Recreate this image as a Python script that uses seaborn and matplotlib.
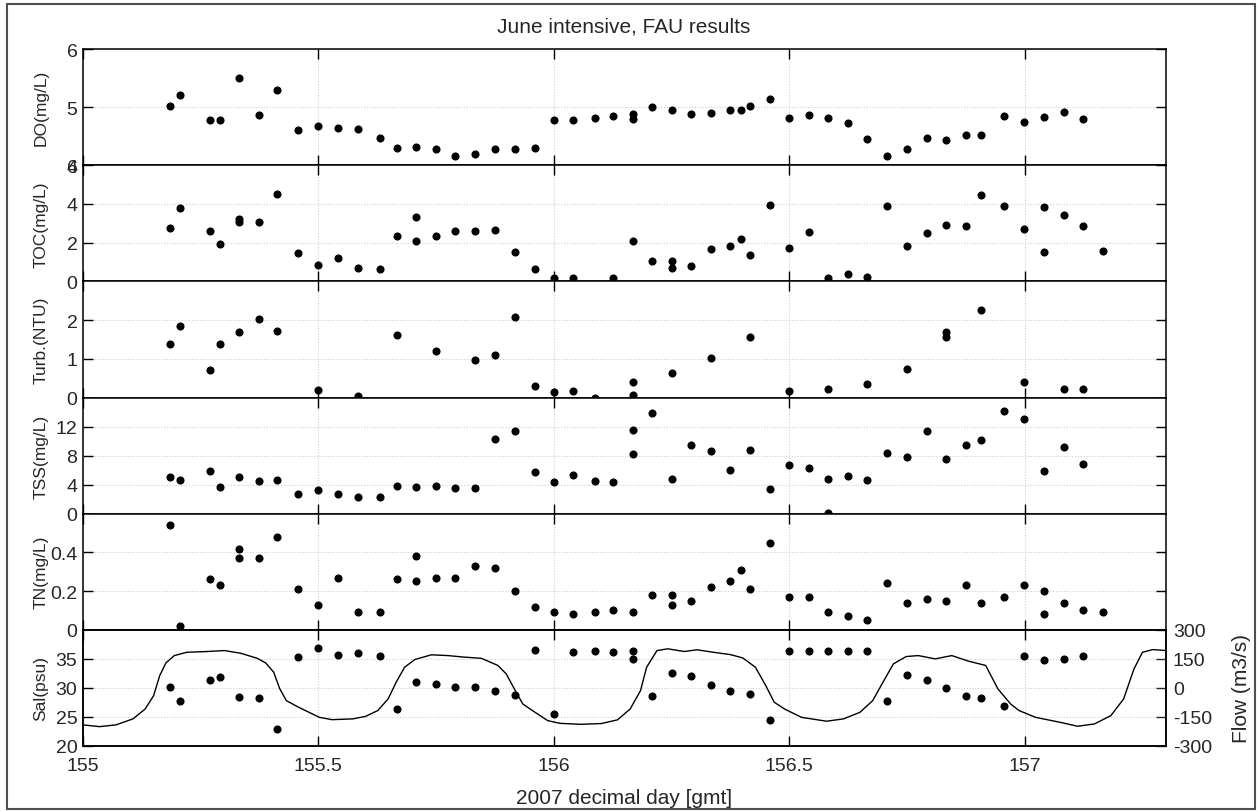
import matplotlib
matplotlib.use("Agg")
import matplotlib.pyplot as plt
from matplotlib.patches import Rectangle
import seaborn as sns
import pandas as pd

# ---------------- data ----------------
do_t = [155.185,155.207,155.270,155.291,155.332,155.374,155.412,155.457,155.499,155.542,
        155.583,155.631,155.666,155.707,155.749,155.791,155.833,155.875,155.917,155.959,
        156.000,156.041,156.087,156.126,156.167,156.167,156.208,156.251,156.291,156.333,
        156.375,156.397,156.417,156.459,156.500,156.542,156.583,156.624,156.666,156.708,
        156.750,156.792,156.833,156.875,156.908,156.957,156.999,157.041,157.083,157.124]
do_v = [5.02,5.21,4.77,4.77,5.50,4.87,5.29,4.60,4.68,4.64,
        4.62,4.47,4.29,4.31,4.27,4.16,4.20,4.27,4.27,4.29,
        4.77,4.78,4.81,4.84,4.88,4.80,5.00,4.95,4.88,4.90,
        4.95,4.95,5.02,5.14,4.82,4.86,4.82,4.73,4.45,4.16,
        4.28,4.46,4.44,4.52,4.52,4.85,4.75,4.83,4.91,4.80]

toc_t = [155.185,155.207,155.270,155.291,155.332,155.332,155.374,155.412,155.457,155.499,
         155.542,155.583,155.631,155.666,155.707,155.707,155.749,155.791,155.833,155.875,
         155.917,155.959,156.000,156.041,156.126,156.167,156.208,156.251,156.251,156.291,
         156.333,156.375,156.397,156.417,156.459,156.500,156.542,156.583,156.624,156.666,
         156.708,156.750,156.792,156.833,156.875,156.908,156.957,156.999,157.041,157.041,
         157.083,157.124,157.166]
toc_v = [2.74,3.79,2.60,1.95,3.20,3.08,3.06,4.53,1.48,0.86,
         1.20,0.67,0.65,2.36,3.30,2.08,2.34,2.62,2.58,2.63,
         1.50,0.64,0.19,0.17,0.19,2.08,1.05,1.07,0.69,0.79,
         1.67,1.82,2.19,1.34,3.92,1.72,2.53,0.19,0.38,0.24,
         3.87,1.82,2.48,2.89,2.86,4.44,3.87,2.69,3.86,1.53,
         3.41,2.86,1.57]

turb_t = [155.185,155.207,155.270,155.291,155.332,155.374,155.412,155.499,155.583,155.666,
          155.749,155.833,155.875,155.917,155.959,156.000,156.041,156.087,156.167,156.167,
          156.251,156.333,156.417,156.500,156.583,156.666,156.750,156.833,156.833,156.908,
          156.999,157.083,157.124]
turb_v = [1.38,1.84,0.71,1.38,1.70,2.02,1.72,0.19,0.04,1.61,
          1.20,0.98,1.11,2.07,0.29,0.13,0.16,0.00,0.41,0.07,
          0.64,1.02,1.57,0.16,0.22,0.34,0.73,1.68,1.55,2.27,
          0.41,0.22,0.23]

tss_t = [155.185,155.207,155.270,155.291,155.332,155.374,155.412,155.457,155.499,155.542,
         155.583,155.631,155.666,155.707,155.749,155.791,155.833,155.875,155.917,155.959,
         156.000,156.041,156.087,156.126,156.167,156.167,156.208,156.251,156.291,156.333,
         156.375,156.417,156.459,156.500,156.542,156.583,156.583,156.624,156.666,156.708,
         156.750,156.792,156.833,156.875,156.908,156.957,156.999,157.041,157.083,157.124]
tss_v = [4.99,4.63,5.86,3.71,4.99,4.49,4.67,2.75,3.30,2.66,
         2.29,2.29,3.80,3.71,3.85,3.57,3.57,10.26,11.41,5.68,
         4.31,5.31,4.49,4.40,11.54,8.25,13.88,4.76,9.48,8.70,
         6.00,8.80,3.44,6.69,6.28,4.72,0.05,5.18,4.63,8.29,
         7.79,11.41,7.56,9.44,10.08,14.11,13.01,5.82,9.16,6.78]

tn_t = [155.185,155.207,155.270,155.291,155.332,155.332,155.374,155.412,155.457,155.499,
        155.542,155.583,155.631,155.666,155.707,155.707,155.749,155.791,155.833,155.875,
        155.917,155.959,156.000,156.041,156.087,156.126,156.167,156.208,156.251,156.251,
        156.291,156.333,156.375,156.397,156.417,156.459,156.500,156.542,156.583,156.624,
        156.666,156.708,156.750,156.792,156.833,156.875,156.908,156.957,156.999,157.041,
        157.041,157.083,157.124,157.166]
tn_v = [0.54,0.02,0.26,0.23,0.42,0.37,0.37,0.48,0.21,0.13,
        0.27,0.09,0.09,0.26,0.38,0.25,0.27,0.27,0.33,0.32,
        0.20,0.12,0.09,0.08,0.09,0.10,0.09,0.18,0.18,0.13,
        0.15,0.22,0.25,0.31,0.21,0.45,0.17,0.17,0.09,0.07,
        0.05,0.24,0.14,0.16,0.15,0.23,0.14,0.17,0.23,0.20,
        0.08,0.14,0.10,0.09]

sal_t = [155.185,155.207,155.270,155.291,155.332,155.374,155.412,155.457,155.499,155.542,
         155.583,155.631,155.666,155.707,155.749,155.791,155.833,155.875,155.917,155.959,
         156.000,156.041,156.087,156.126,156.167,156.167,156.208,156.251,156.291,156.333,
         156.375,156.417,156.459,156.500,156.542,156.583,156.624,156.666,156.708,156.750,
         156.792,156.833,156.875,156.908,156.957,156.999,157.041,157.083,157.124]
sal_v = [30.1,27.8,31.4,31.8,28.4,28.3,22.9,35.3,36.9,35.7,
         36.0,35.5,26.3,31.1,30.7,30.1,30.2,29.4,28.7,36.6,
         25.5,36.1,36.3,36.1,36.3,35.0,28.6,32.6,32.0,30.5,
         29.5,29.0,24.4,36.4,36.4,36.3,36.4,36.4,27.8,32.2,
         31.4,30.0,28.6,28.3,26.9,35.5,34.8,34.9,35.5]

flow_t = [155.000,155.035,155.070,155.106,155.132,155.150,155.163,155.176,155.194,155.220,
          155.264,155.300,155.335,155.370,155.388,155.405,155.418,155.432,155.458,155.480,
          155.502,155.529,155.573,155.600,155.626,155.648,155.665,155.683,155.705,155.740,
          155.775,155.810,155.846,155.881,155.899,155.916,155.934,155.960,155.987,156.013,
          156.057,156.101,156.135,156.162,156.184,156.197,156.219,156.242,156.277,156.304,
          156.339,156.375,156.401,156.428,156.450,156.468,156.490,156.526,156.579,156.615,
          156.650,156.677,156.703,156.721,156.748,156.774,156.810,156.845,156.881,156.917,
          156.943,156.970,156.988,157.023,157.076,157.112,157.148,157.183,157.210,157.232,
          157.250,157.272,157.300]
flow_v = [-191,-200,-191,-160,-109,-40,64,129,167,184,
          188,193,179,153,129,81,-5,-66,-100,-126,
          -152,-164,-160,-147,-117,-57,29,107,147,171,
          167,159,153,116,72,-5,-83,-126,-169,-183,
          -188,-184,-165,-109,-14,107,193,202,188,197,
          184,172,155,107,12,-74,-109,-152,-172,-160,
          -126,-66,47,124,162,167,150,167,138,116,
          -5,-83,-117,-152,-178,-198,-186,-143,-57,98,
          184,198,193]

panel_labels = ["DO(mg/L)", "TOC(mg/L)", "Turb.(NTU)", "TSS(mg/L)", "TN(mg/L)", "Sal(psu)"]
panel_ylims = [(4, 6), (0, 6), (0, 3), (0, 16), (0, 0.6), (20, 40)]
panel_yticks = [[4, 5, 6], [0, 2, 4, 6], [0, 1, 2], [0, 4, 8, 12], [0, 0.2, 0.4], [20, 25, 30, 35]]
panel_yticklabels = [["4", "5", "6"], ["0", "2", "4", "6"], ["0", "1", "2"],
                     ["0", "4", "8", "12"], ["0", "0.2", "0.4"], ["20", "25", "30", "35"]]
flow_ticks = [-300, -150, 0, 150, 300]
x_ticks = [155, 155.5, 156, 156.5, 157]
x_ticklabels = ["155", "155.5", "156", "156.5", "157"]
title = "June intensive, FAU results"
x_label = "2007 decimal day [gmt]"
flow_label = "Flow (m3/s)"

# ---------------- styling ----------------
sns.set_style("white")
plt.rcParams["font.family"] = ["Liberation Sans", "DejaVu Sans"]

W, H = 1257, 812
fig = plt.figure(figsize=(W / 100, H / 100), dpi=100)

left_px, right_px = 83, 1166
top_px, bottom_px = 50, 747
ph = (bottom_px - top_px) / 6.0

series = [(do_t, do_v), (toc_t, toc_v), (turb_t, turb_v),
          (tss_t, tss_v), (tn_t, tn_v), (sal_t, sal_v)]

axes = []
for i in range(6):
    y_top = top_px + i * ph
    ax = fig.add_axes([left_px / W, 1 - (y_top + ph) / H,
                       (right_px - left_px) / W, ph / H])
    axes.append(ax)
    t, v = series[i]
    df = pd.DataFrame({"t": t, "v": v})
    sns.scatterplot(data=df, x="t", y="v", ax=ax, color="black", s=34,
                    linewidth=0, edgecolor="black", zorder=3)
    ax.set_xlim(155, 157.3)
    ax.set_ylim(*panel_ylims[i])
    ax.set_yticks(panel_yticks[i])
    ax.set_yticklabels(panel_yticklabels[i])
    ax.set_xticks(x_ticks)
    ax.grid(True, linestyle=(0, (1, 1.5)), color="#cfcfcf", linewidth=0.8)
    ax.tick_params(axis="both", direction="in", length=7.5, width=1.0,
                   color="black", labelsize=14, top=True, bottom=True,
                   left=True, right=True)
    ax.tick_params(axis="y", pad=4)
    for sp in ax.spines.values():
        sp.set_color("black")
        sp.set_linewidth(1.1)
    ax.set_ylabel(panel_labels[i], fontsize=12.5, va="center")
    ax.yaxis.set_label_coords(-0.0388, 0.5)
    if i < 5:
        ax.set_xticklabels([])
        ax.set_xlabel("")
    else:
        ax.set_xticklabels(x_ticklabels)
        ax.tick_params(axis="x", pad=8)
        ax.set_xlabel(x_label, fontsize=15, va="top")
        ax.xaxis.set_label_coords(0.5, -0.36)

# flow on right axis of salinity panel
ax_sal = axes[5]
ax2 = ax_sal.twinx()
fdf = pd.DataFrame({"t": flow_t, "f": flow_v})
sns.lineplot(data=fdf, x="t", y="f", ax=ax2, color="black", linewidth=1.0,
             estimator=None, sort=False)
ax2.set_xlim(155, 157.3)
ax2.set_ylim(-300, 300)
ax2.set_yticks(flow_ticks)
ax2.set_yticklabels([str(v) for v in flow_ticks])
ax2.tick_params(axis="y", direction="in", length=7.5, width=1.0, labelsize=14, pad=5)
ax2.grid(False)
ax2.set_ylabel(flow_label, fontsize=15, va="center", rotation=90)
ax2.yaxis.set_label_coords(1.0693, 0.5)
for sp in ax2.spines.values():
    sp.set_color("black")
    sp.set_linewidth(1.1)

fig.text(0.4965, 1 - 27 / H, title, ha="center", va="center", fontsize=15)

fig.add_artist(Rectangle((7 / W, 2 / H), (1255 - 7) / W, (807 - 2) / H,
                         transform=fig.transFigure, fill=False,
                         edgecolor="#505050", linewidth=1.5))

fig.savefig("out.png", dpi=100)
